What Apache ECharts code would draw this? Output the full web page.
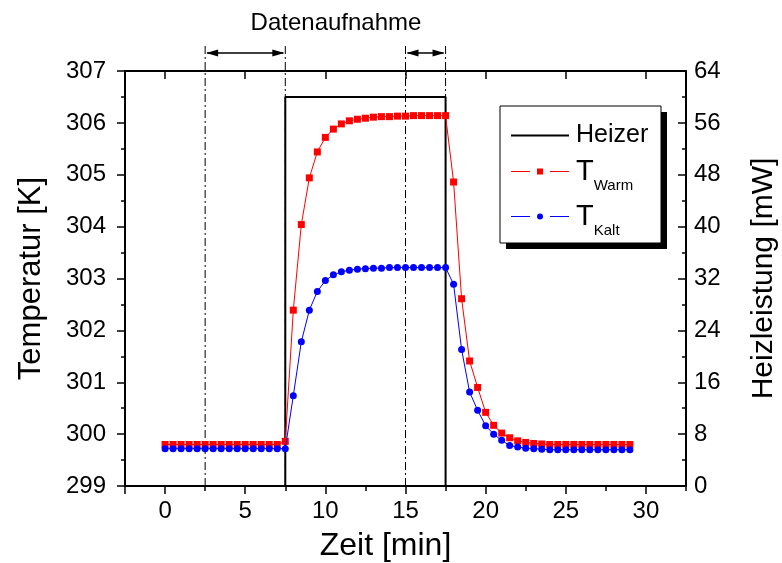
<!DOCTYPE html>
<html>
<head>
<meta charset="utf-8">
<script src="https://cdn.jsdelivr.net/npm/echarts@6/dist/echarts.min.js"></script>
<style>
  html, body { margin: 0; padding: 0; background: #fff; }
  #chart { width: 782px; height: 563px; }
</style>
</head>
<body>
<div id="chart"></div>
<script>
// measurement times (min)
const times = [0, 0.5, 1, 1.5, 2, 2.5, 3, 3.5, 4, 4.5, 5, 5.5, 6, 6.5, 7, 7.5,
  8, 8.5, 9, 9.5, 10, 10.5, 11, 11.5, 12, 12.5, 13, 13.5, 14, 14.5, 15, 15.5,
  16, 16.5, 17, 17.5, 18, 18.5, 19, 19.5, 20, 20.5, 21, 21.5, 22, 22.5, 23, 23.5,
  24, 24.5, 25, 25.5, 26, 26.5, 27, 27.5, 28, 28.5, 29];

// warm side temperature (K)
const tWarm = [299.80, 299.80, 299.80, 299.80, 299.80, 299.80, 299.80, 299.80,
  299.80, 299.80, 299.80, 299.80, 299.80, 299.80, 299.80, 299.86,
  302.39, 304.04, 304.94, 305.44, 305.72, 305.88, 305.98, 306.04, 306.07, 306.09,
  306.11, 306.12, 306.12, 306.13, 306.13, 306.14, 306.14, 306.14, 306.14, 306.14,
  304.86, 302.61, 301.41, 300.90, 300.42, 300.17, 300.02, 299.93, 299.87, 299.84,
  299.82, 299.81, 299.80, 299.80, 299.80, 299.80, 299.80, 299.80, 299.80, 299.80,
  299.80, 299.80, 299.80];

// cold side temperature (K)
const tKalt = [299.72, 299.72, 299.72, 299.72, 299.72, 299.72, 299.72, 299.72,
  299.72, 299.72, 299.72, 299.72, 299.72, 299.72, 299.72, 299.72,
  300.74, 301.78, 302.39, 302.75, 302.96, 303.07, 303.13, 303.16, 303.18, 303.19,
  303.20, 303.20, 303.21, 303.21, 303.21, 303.21, 303.21, 303.21, 303.21, 303.21,
  302.89, 301.63, 300.81, 300.46, 300.16, 300.00, 299.88, 299.78, 299.75, 299.73,
  299.72, 299.71, 299.70, 299.70, 299.70, 299.70, 299.70, 299.70, 299.70, 299.70,
  299.70, 299.70, 299.70];

// heater power (mW), step shape
const heaterTimes = [-2.5, 7.5, 7.5, 17.5, 17.5, 32.5];
const heaterPower = [0, 0, 60, 60, 0, 0];

// dash-dot markers and the "Datenaufnahme" spans
const markTimes = [2.5, 7.5, 15, 17.5];
const spanStart = [2.5, 15];
const spanEnd = [7.5, 17.5];

const xMajor = [-2.5, 0, 5, 10, 15, 20, 25, 30];
const xLabels = [0, 5, 10, 15, 20, 25, 30];
const xMinor = [2.5, 7.5, 12.5, 17.5, 22.5, 27.5, 32.5];

const FONT = 'Liberation Sans, Arial, sans-serif';

// legend icons (Origin style: line - symbol - line)
const iconLine = 'path://M0,3 L58,3 L58,5 L0,5 Z';
const iconSquare = 'path://M0,3.5 L19,3.5 L19,4.5 L0,4.5 Z M26,1 L32,1 L32,7 L26,7 Z M39,3.5 L58,3.5 L58,4.5 L39,4.5 Z';
const iconDot = 'path://M0,3.5 L19,3.5 L19,4.5 L0,4.5 Z M32,4 A3,3 0 1,1 26,4 A3,3 0 1,1 32,4 Z M39,3.5 L58,3.5 L58,4.5 L39,4.5 Z';

var chartDom = document.getElementById('chart');
var myChart = echarts.init(chartDom, null, { renderer: 'canvas', devicePixelRatio: 1 });

const axisLine = { show: true, onZero: false, lineStyle: { color: '#000', width: 2 } };

var option = {
  animation: false,
  backgroundColor: '#fff',
  textStyle: { fontFamily: FONT },
  grid: { left: 125, right: 96, top: 71, bottom: 77, containLabel: false, outerBoundsMode: 'none' },
  xAxis: [
    {
      type: 'value', position: 'bottom', min: -2.5, max: 32.5,
      name: 'Zeit [min]', nameLocation: 'middle', nameGap: 44,
      nameTextStyle: { fontSize: 32, color: '#000', fontFamily: FONT, padding: [0, 40, 0, 0] },
      axisLine: axisLine,
      axisTick: { show: true, length: 8, customValues: xMajor, lineStyle: { color: '#000', width: 1.5 } },
      axisLabel: { customValues: xLabels, fontSize: 24, color: '#000', margin: 13, fontFamily: FONT },
      splitLine: { show: false }
    },
    {
      type: 'value', position: 'bottom', min: -2.5, max: 32.5,
      axisLine: { show: false, onZero: false },
      axisTick: { show: true, length: 5, customValues: xMinor, lineStyle: { color: '#000', width: 1.5 } },
      axisLabel: { show: false },
      splitLine: { show: false }
    },
    {
      type: 'value', position: 'top', min: -2.5, max: 32.5,
      axisLine: axisLine,
      axisTick: { show: true, inside: true, length: 8, customValues: xLabels, lineStyle: { color: '#000', width: 1.5 } },
      axisLabel: { show: false },
      splitLine: { show: false }
    }
  ],
  yAxis: [
    {
      type: 'value', position: 'left', min: 299, max: 307, interval: 1,
      name: 'Temperatur [K]', nameLocation: 'middle', nameGap: 78, nameRotate: 90,
      nameTextStyle: { fontSize: 31, color: '#000', fontFamily: FONT },
      axisLine: axisLine,
      axisTick: { show: true, length: 8, lineStyle: { color: '#000', width: 1.5 } },
      minorTick: { show: true, splitNumber: 2, length: 4, lineStyle: { color: '#000', width: 1.5 } },
      axisLabel: { fontSize: 24, color: '#000', margin: 19, fontFamily: FONT },
      splitLine: { show: false }
    },
    {
      type: 'value', position: 'right', min: 0, max: 64, interval: 8,
      name: 'Heizleistung [mW]', nameLocation: 'middle', nameGap: 63, nameRotate: 90,
      nameTextStyle: { fontSize: 30, color: '#000', fontFamily: FONT },
      axisLine: axisLine,
      axisTick: { show: true, inside: true, length: 8, lineStyle: { color: '#000', width: 1.5 } },
      minorTick: { show: true, splitNumber: 2, length: 4, lineStyle: { color: '#000', width: 1.5 } },
      axisLabel: { fontSize: 24, color: '#000', margin: 8, fontFamily: FONT },
      splitLine: { show: false }
    }
  ],
  legend: {
    orient: 'vertical', left: 511, top: 123,
    itemWidth: 58, itemHeight: 8, itemGap: 9,
    selectedMode: false, padding: 0,
    data: [
      { name: 'Heizer', icon: iconLine },
      { name: 'T_Warm', icon: iconSquare },
      { name: 'T_Kalt', icon: iconDot }
    ],
    formatter: function (name) {
      if (name === 'T_Warm') return '{t|T}{s|Warm}';
      if (name === 'T_Kalt') return '{t|T}{s|Kalt}';
      return name;
    },
    textStyle: {
      fontSize: 25, color: '#000', fontFamily: FONT, padding: [0, 0, 0, 2],
      rich: {
        t: { fontSize: 29, color: '#000', fontFamily: FONT },
        s: { fontSize: 15, color: '#000', fontFamily: FONT, padding: [28, 0, 0, 0] }
      }
    }
  },
  graphic: [
    { type: 'rect', z: 3, shape: { x: 506, y: 112, width: 161, height: 137 }, style: { fill: '#000' } },
    { type: 'rect', z: 3, shape: { x: 500, y: 106, width: 161, height: 137 }, style: { fill: '#fff', stroke: '#000', lineWidth: 1 } },
    {
      type: 'text', z: 5, x: 336, y: 23,
      style: { text: 'Datenaufnahme', font: '24px ' + FONT, fill: '#000', textAlign: 'center', textVerticalAlign: 'middle' }
    }
  ],
  series: [
    {
      type: 'custom', name: 'marks', silent: true, clip: false, z: 1,
      xAxisIndex: 0, yAxisIndex: 0,
      data: markTimes.map(function (t) { return [t, 299]; }),
      encode: { x: 0, y: 1 },
      renderItem: function (params, api) {
        var p = api.coord([api.value(0), 299]);
        var top = params.coordSys.y - 28;
        return {
          type: 'line',
          shape: { x1: p[0], y1: p[1], x2: p[0], y2: top },
          style: { stroke: '#000', lineWidth: 1, lineDash: [8, 3, 2, 3] }
        };
      }
    },
    {
      type: 'custom', name: 'spans', silent: true, clip: false, z: 1,
      xAxisIndex: 0, yAxisIndex: 0,
      data: spanStart.map(function (s, i) { return [s, spanEnd[i]]; }),
      encode: { x: [0, 1] },
      renderItem: function (params, api) {
        var a = api.coord([api.value(0), 307]);
        var b = api.coord([api.value(1), 307]);
        var y = params.coordSys.y - 18;
        var L = 12, H = 3.5;
        return {
          type: 'group',
          children: [
            { type: 'line', shape: { x1: a[0] + 2, y1: y, x2: b[0] - 2, y2: y }, style: { stroke: '#000', lineWidth: 1.5 } },
            { type: 'polygon', shape: { points: [[a[0] + 1, y], [a[0] + 1 + L, y - H], [a[0] + 1 + L, y + H]] }, style: { fill: '#000' } },
            { type: 'polygon', shape: { points: [[b[0] - 1, y], [b[0] - 1 - L, y - H], [b[0] - 1 - L, y + H]] }, style: { fill: '#000' } }
          ]
        };
      }
    },
    {
      type: 'line', name: 'Heizer', yAxisIndex: 1, z: 2,
      data: heaterTimes.map(function (t, i) { return [t, heaterPower[i]]; }),
      symbol: 'none', color: '#000',
      lineStyle: { color: '#000', width: 2 }
    },
    {
      type: 'line', name: 'T_Warm', yAxisIndex: 0, z: 3,
      data: times.map(function (t, i) { return [t, tWarm[i]]; }),
      symbol: 'rect', symbolSize: 7, color: '#ff0000',
      itemStyle: { color: '#ff0000' },
      lineStyle: { color: '#ff0000', width: 1 }
    },
    {
      type: 'line', name: 'T_Kalt', yAxisIndex: 0, z: 4,
      data: times.map(function (t, i) { return [t, tKalt[i]]; }),
      symbol: 'circle', symbolSize: 7, color: '#0000ff',
      itemStyle: { color: '#0000ff' },
      lineStyle: { color: '#0000ff', width: 1 }
    }
  ]
};

option && myChart.setOption(option);
</script>
</body>
</html>
